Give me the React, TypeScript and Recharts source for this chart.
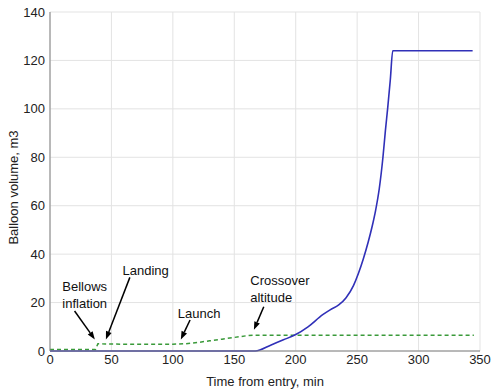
import { LineChart, Line, XAxis, YAxis, CartesianGrid, ReferenceLine, ReferenceDot } from 'recharts'

// time (min) / balloon volume (m3)
const balloonTime = [0, 167, 180, 190, 200, 210, 222, 228, 235, 241, 247, 251, 255, 259, 262, 265, 268, 271, 273, 275, 277, 279, 344]
const balloonVolume = [0, 0, 2.5, 4.6, 6.8, 10, 15, 17, 19, 22, 27, 32, 38, 45, 51, 58, 67, 80, 91, 101, 112, 124, 124]

const bellowsTime = [0, 37, 39, 45, 60, 100, 110, 120, 130, 140, 150, 160, 166, 345]
const bellowsVolume = [0.6, 0.6, 3.0, 2.9, 2.8, 2.8, 3.0, 3.5, 4.2, 4.9, 5.6, 6.3, 6.5, 6.5]

const xTicks = [0, 50, 100, 150, 200, 250, 300, 350]
const yTicks = [0, 20, 40, 60, 80, 100, 120, 140]

// annotation text: left edge time, first-line baseline volume
const noteLines = [['Bellows', 'inflation'], ['Landing'], ['Launch'], ['Crossover', 'altitude']]
const noteTime = [10, 59, 104, 163]
const noteVolume = [24.7, 31.3, 13.8, 27.2]

// arrows: from -> to
const arrowFromTime = [20, 65, 114, 174]
const arrowFromVolume = [16.5, 30.4, 12.8, 18.3]
const arrowToTime = [36.5, 45.5, 106.5, 166]
const arrowToVolume = [4.8, 4.8, 4.8, 8.8]

const balloon = balloonTime.map((t, i) => ({ t, v: balloonVolume[i] }))
const bellows = bellowsTime.map((t, i) => ({ t, v: bellowsVolume[i] }))

const font = 'Arial, "Liberation Sans", Helvetica, sans-serif'

function Arrow(props: any) {
  const { x1, y1, x2, y2 } = props
  const ang = Math.atan2(y2 - y1, x2 - x1)
  const len = 8
  const w = 3
  const bx = x2 - len * Math.cos(ang)
  const by = y2 - len * Math.sin(ang)
  const px = -Math.sin(ang) * w
  const py = Math.cos(ang) * w
  return (
    <g>
      <line x1={x1} y1={y1} x2={bx} y2={by} stroke="#000" strokeWidth={1.5} />
      <polygon points={`${x2},${y2} ${bx + px},${by + py} ${bx - px},${by - py}`} fill="#000" />
    </g>
  )
}

function YLabel(props: any) {
  const vb = props.viewBox
  const cx = 13
  const cy = vb.y + vb.height / 2 + 6
  return (
    <text x={cx} y={cy} transform={`rotate(-90, ${cx}, ${cy})`} textAnchor="middle" dominantBaseline="central" fill="#222" fontSize={13} fontFamily={font}>
      Balloon volume, m3
    </text>
  )
}

export default function App() {
  return (
    <div style={{ position: 'absolute', left: 0, top: 0, background: '#fff' }}>
      <LineChart width={492} height={389} margin={{ top: 12, right: 12, left: 0, bottom: 0 }}>
        <CartesianGrid stroke="#e3e3e3" />
        <XAxis
          type="number"
          dataKey="t"
          domain={[0, 350]}
          ticks={xTicks}
          allowDuplicatedCategory={false}
          height={38}
          tickLine={false}
          tickSize={0}
          tickMargin={4}
          stroke="#808080"
          tick={{ fill: '#222', fontSize: 13, fontFamily: font }}
          label={{ value: 'Time from entry, min', position: 'insideBottom', offset: 3, fill: '#222', fontSize: 13, fontFamily: font }}
        />
        <XAxis xAxisId="top" orientation="top" type="number" domain={[0, 350]} height={0} tick={false} tickLine={false} stroke="#808080" />
        <YAxis
          type="number"
          domain={[0, 140]}
          ticks={yTicks}
          width={50}
          tickLine={false}
          tickSize={0}
          tickMargin={5}
          stroke="#808080"
          tick={{ fill: '#222', fontSize: 13, fontFamily: font }}
          label={{ content: YLabel }}
        />
        <YAxis yAxisId="right" orientation="right" domain={[0, 140]} width={0} tick={false} tickLine={false} stroke="#808080" />
        <Line data={bellows} dataKey="v" type="linear" stroke="#3a9a3a" strokeWidth={1.5} strokeDasharray="4 3" dot={false} isAnimationActive={false} />
        <Line data={balloon} dataKey="v" type="monotone" stroke="#3030b8" strokeWidth={1.6} dot={false} isAnimationActive={false} />
        {arrowFromTime.map((t, i) => (
          <ReferenceLine
            key={'a' + i}
            segment={[{ x: t, y: arrowFromVolume[i] }, { x: arrowToTime[i], y: arrowToVolume[i] }]}
            ifOverflow="visible"
            shape={Arrow}
          />
        ))}
        {noteLines.map((lines, i) => (
          <ReferenceDot
            key={'n' + i}
            x={noteTime[i]}
            y={noteVolume[i]}
            r={0}
            ifOverflow="visible"
            shape={(p: any) => (
              <text x={p.cx} y={p.cy} fill="#111" fontSize={13} fontFamily={font}>
                {lines.map((s, j) => (
                  <tspan key={j} x={p.cx} dy={j === 0 ? 0 : 16.5}>{s}</tspan>
                ))}
              </text>
            )}
          />
        ))}
      </LineChart>
    </div>
  )
}
